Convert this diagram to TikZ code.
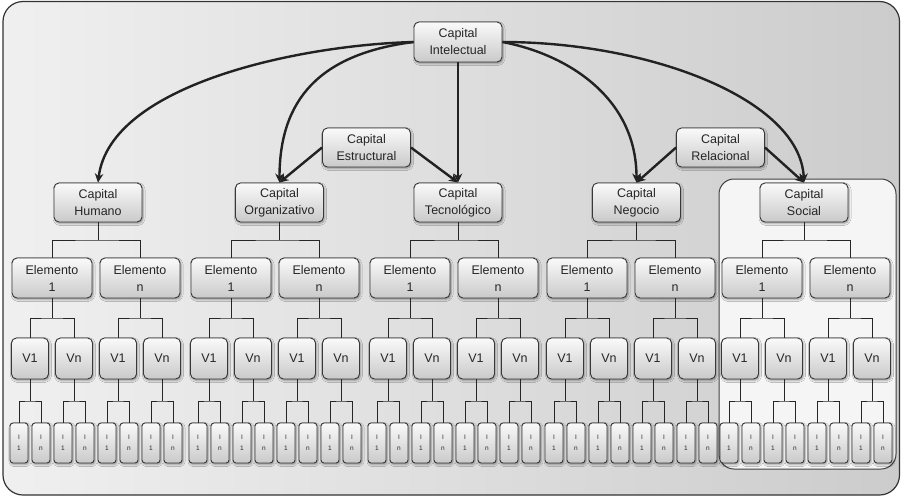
\documentclass[tikz,border=0pt]{standalone}
\usepackage{fontspec}
\setmainfont{Liberation Sans}
\usetikzlibrary{arrows.meta,calc,shadows.blur}

\definecolor{ink}{HTML}{262626}
\definecolor{edgegray}{HTML}{383838}
\definecolor{arrowgray}{HTML}{222222}

\tikzset{
  box/.style={draw=edgegray, line width=0.9pt, rounded corners=5pt,
    top color=black!2, bottom color=black!21, text=ink, align=center,
    inner sep=0pt, font=\fontsize{12.5}{17}\selectfont,
    blur shadow={shadow xshift=1pt, shadow yshift=-1.5pt,
      shadow blur radius=2pt, shadow opacity=40}},
  capbox/.style={box, minimum width=88pt, minimum height=39pt},
  elbox/.style={box, minimum width=80pt, minimum height=40pt},
  varbox/.style={box, minimum width=37pt, minimum height=41pt},
  leafbox/.style={box, rounded corners=3pt, minimum width=18pt,
    minimum height=40pt, font=\fontsize{6.5}{10.5}\selectfont},
  link/.style={draw=black!85, line width=0.8pt},
  flow/.style={draw=arrowgray, line width=2.4pt,
    -{Stealth[length=9pt,width=8.5pt]}},
}

% elbow fork: parent #1 branching down to children #2 and #3
\newcommand\forkto[3]{%
  \draw[link] (#1.south) -- ($(#1.south)!.5!(#1.south |- #2.north)$);
  \draw[link] (#2.north) |- ($(#1.south)!.5!(#1.south |- #2.north)$) -| (#3.north);
}

\begin{document}
\begin{tikzpicture}[x=1pt,y=-1pt]
\useasboundingbox (0,0) rectangle (902,498);

% outer panel
\path[draw=black!80, line width=1.2pt, rounded corners=20pt,
  left color=black!6, right color=black!20] (3,1.5) rectangle (899.5,495);

% highlighted social group
\path[draw=black!75, line width=1pt, rounded corners=15pt,
  fill=black!4] (719,179) rectangle (896,469);

% top level
\node[capbox, minimum height=40pt] (intel) at (458,42) {Capital\\Intelectual};
\node[capbox] (estr) at (366.5,147.5) {Capital\\Estructural};
\node[capbox] (rel) at (720.5,147.5) {Capital\\Relacional};

% capital trees
\foreach \colid/\cx/\bx/\lab in {hum/96/98/Humano, org/275/279.5/Organizativo,
    tec/454/458/Tecnológico, neg/631/636.5/Negocio, soc/806/804/Social} {
  \node[capbox] (\colid) at (\bx,202.5) {Capital\\\lab};
  \foreach \elid/\esg/\etx in {a/-1/1, b/1/n} {
    \node[elbox] (\colid-\elid) at ({\cx+(\esg)*44},278) {Elemento\\\etx};
    \foreach \varid/\vsg/\vtx in {a/-1/1, b/1/n} {
      \node[varbox] (\colid-\elid-\varid) at ({\cx+(\esg)*44+(\vsg)*22},358.5) {V\vtx};
      \foreach \leafid/\lsg/\ltx in {a/-1/1, b/1/n} {
        \node[leafbox] (\colid-\elid-\varid-\leafid)
          at ({\cx+(\esg)*44+(\vsg)*22+(\lsg)*11},443) {I\\\ltx};
      }
      \forkto{\colid-\elid-\varid}{\colid-\elid-\varid-a}{\colid-\elid-\varid-b}
    }
    \forkto{\colid-\elid}{\colid-\elid-a}{\colid-\elid-b}
  }
  \forkto{\colid}{\colid-a}{\colid-b}
}

% arrows
\draw[flow] (intel.west) .. controls +(-114,3) and +(12,-98) .. (hum.north);
\draw[flow] (intel.west) .. controls +(-94,12) and +(0,-83) .. (org.north);
\draw[flow] (intel.south) -- (tec.north);
\draw[flow] (intel.east) .. controls +(68,13) and +(0,-83) .. (neg.north);
\draw[flow] (intel.east) .. controls +(148,0) and +(-4,-83) .. (soc.north);
\draw[flow] (estr.west) -- (org.north);
\draw[flow] (estr.east) -- (tec.north);
\draw[flow] (rel.west) -- (neg.north);
\draw[flow] (rel.east) -- (soc.north);
\end{tikzpicture}
\end{document}
